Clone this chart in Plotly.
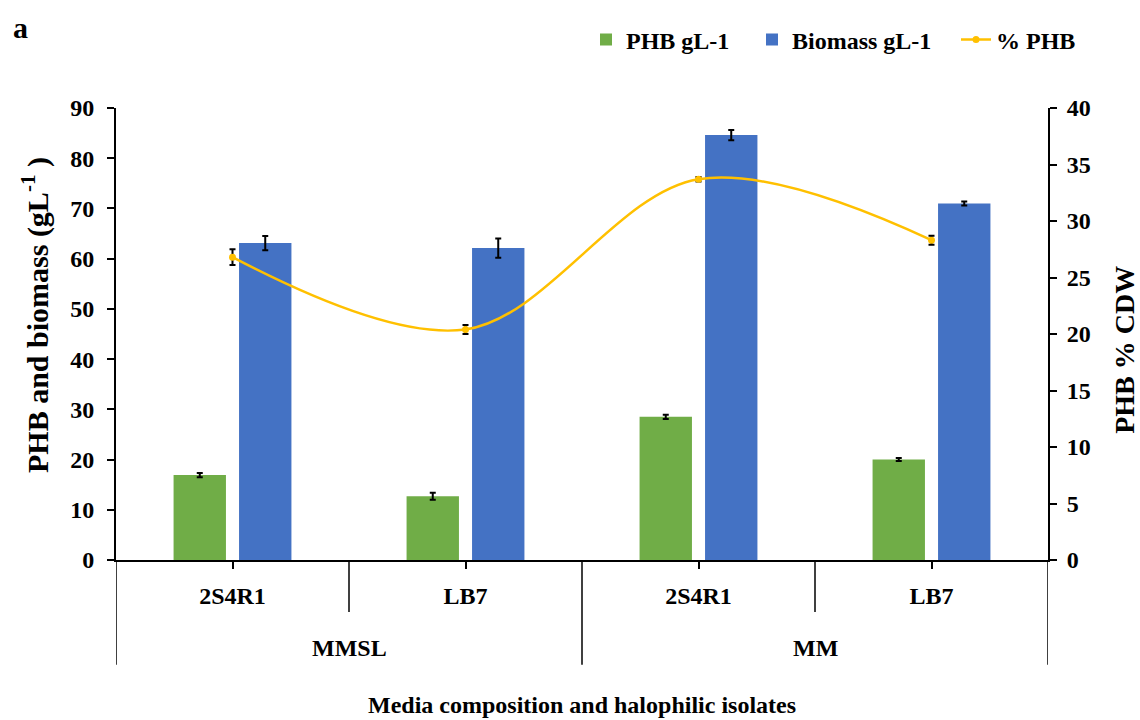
import plotly.graph_objects as go

# ---- data ----
media = ["MMSL", "MMSL", "MM", "MM"]
isolates = ["2S4R1", "LB7", "2S4R1", "LB7"]
phb_g = [16.9, 12.7, 28.5, 20.0]
phb_err = [0.4, 0.7, 0.4, 0.3]
biomass_g = [63.1, 62.1, 84.6, 71.0]
biomass_err = [1.4, 1.9, 1.0, 0.4]
phb_pct = [26.8, 20.4, 33.7, 28.3]
phb_pct_err = [0.7, 0.4, 0.2, 0.4]

left_ticks = list(range(0, 91, 10))
right_ticks = list(range(0, 41, 5))

FONT = "Liberation Serif"
idx = list(range(len(isolates)))

fig = go.Figure()
fig.add_trace(go.Bar(
    x=idx, y=phb_g, name="PHB gL-1", marker_color="#70AD47", legend="legend",
    error_y=dict(type="data", array=phb_err, color="black", thickness=2, width=3),
))
fig.add_trace(go.Bar(
    x=idx, y=biomass_g, name="Biomass gL-1", marker_color="#4472C4", legend="legend2",
    error_y=dict(type="data", array=biomass_err, color="black", thickness=2, width=3),
))
fig.add_trace(go.Scatter(
    x=idx, y=phb_pct, name="% PHB", yaxis="y2", mode="lines+markers", legend="legend3",
    line=dict(color="#FFC000", width=2.5, shape="spline", smoothing=1.0),
    marker=dict(color="#FFC000", size=7),
    error_y=dict(type="data", array=phb_pct_err, color="black", thickness=2, width=3),
))

# group dividers and labels on the category axis
shapes = []
ann = []
groups = []
for i, m in enumerate(media):
    if not groups or groups[-1][0] != m:
        groups.append([m, [i]])
    else:
        groups[-1][1].append(i)

line_style = dict(color="black", width=1.5)
long_pos = [-0.5] + [g[1][-1] + 0.5 for g in groups]
for xp in long_pos:
    shapes.append(dict(type="line", xref="x", yref="paper", x0=xp, x1=xp, y0=0, y1=-0.232, line=line_style))
for g in groups:
    for i in g[1][:-1]:
        shapes.append(dict(type="line", xref="x", yref="paper", x0=i + 0.5, x1=i + 0.5, y0=0, y1=-0.115, line=line_style))
for g in groups:
    ann.append(dict(x=sum(g[1]) / len(g[1]), y=-0.195, xref="x", yref="paper", text="<b>%s</b>" % g[0],
                    showarrow=False, font=dict(family=FONT, size=24, color="black"),
                    xanchor="center", yanchor="middle"))

ann.append(dict(x=0.5, y=-0.32, xref="paper", yref="paper", text="<b>Media composition and halophilic isolates</b>",
                showarrow=False, font=dict(family=FONT, size=24, color="black"), xanchor="center", yanchor="middle"))
ann.append(dict(x=(35 - 116) / 932, y=0.542, xref="paper", yref="paper", text="<b>PHB and biomass (gL<sup>-1</sup> )</b>",
                showarrow=False, font=dict(family=FONT, size=30, color="black"), textangle=-90,
                xanchor="center", yanchor="middle"))
ann.append(dict(x=(1125 - 116) / 932, y=0.465, xref="paper", yref="paper", text="<b>PHB % CDW</b>",
                showarrow=False, font=dict(family=FONT, size=28, color="black"), textangle=-90,
                xanchor="center", yanchor="middle"))
ann.append(dict(x=(20 - 116) / 932, y=(560 - 27) / 452, xref="paper", yref="paper", text="<b>a</b>",
                showarrow=False, font=dict(family=FONT, size=30, color="black"),
                xanchor="center", yanchor="middle"))

axis_common = dict(showline=True, linecolor="black", linewidth=2, ticks="outside", ticklen=7,
                   tickwidth=1.5, tickcolor="black", showgrid=False, zeroline=False,
                   tickfont=dict(family=FONT, size=24, color="black"))

leg_common = dict(orientation="h", y=(560 - 40) / 452, xanchor="left", yanchor="middle",
                  font=dict(family=FONT, size=24, color="black"), itemwidth=30,
                  bgcolor="rgba(0,0,0,0)")

fig.update_layout(
    width=1140, height=720,
    margin=dict(l=116, r=92, t=108, b=160),
    paper_bgcolor="white", plot_bgcolor="white",
    barmode="group", bargap=0.438, bargroupgap=0.2,
    font=dict(family=FONT, size=24, color="black"),
    showlegend=True,
    legend=dict(x=(586 - 116) / 932, **leg_common),
    legend2=dict(x=(752 - 116) / 932, **leg_common),
    legend3=dict(x=(956 - 116) / 932, **leg_common),
    xaxis=dict(range=[-0.5, 3.5], tickvals=idx, ticktext=["<b>%s</b>" % s for s in isolates],
               ticklabelstandoff=6, **axis_common),
    yaxis=dict(range=[0, 90], tickvals=left_ticks, ticktext=["<b>%d</b>" % v for v in left_ticks],
               ticklabelstandoff=8, **axis_common),
    yaxis2=dict(range=[0, 40], tickvals=right_ticks, ticktext=["<b>%d</b>" % v for v in right_ticks],
                overlaying="y", side="right", ticklabelstandoff=5, **axis_common),
    shapes=shapes, annotations=ann,
)
fig.update_traces(selector=dict(type="bar"), marker_line_width=0)
for tr in fig.data:
    tr.name = "<b>%s</b>" % tr.name

fig.write_html("out.html", config={"displayModeBar": False},
               post_script="document.body.style.margin='0';document.body.style.padding='0';document.body.style.overflow='hidden';")
